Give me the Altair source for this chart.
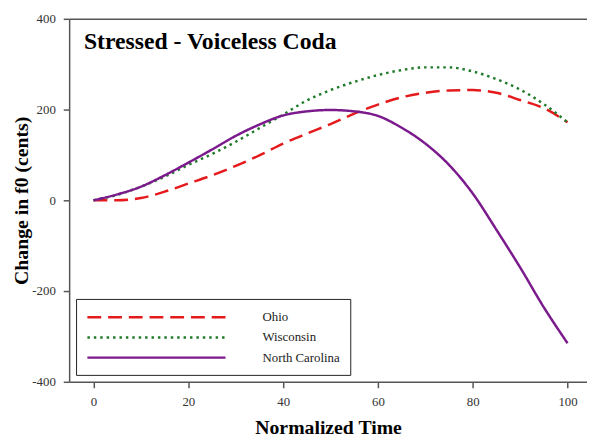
import altair as alt
import pandas as pd

time = [0, 5, 10, 15, 20, 25, 30, 35, 40, 45, 50, 55, 60, 65, 70, 75, 80, 85, 90, 95, 100]
ohio = [0, 0, 5, 19, 37, 55, 76, 99, 125, 147, 168, 191, 211, 227, 237, 242, 243, 237, 221, 203, 172]
wisconsin = [0, 12, 30, 52, 78, 102, 129, 159, 189, 220, 243, 261, 276, 287, 293, 293, 284, 267, 244, 212, 172]
north_carolina = [0, 13, 30, 55, 83, 112, 142, 167, 187, 196, 199, 196, 186, 160, 125, 78, 15, -65, -148, -236, -315]

series_names = ["Ohio", "Wisconsin", "North Carolina"]
series_values = [ohio, wisconsin, north_carolina]
colors = ["#e41a1c", "#1f7a2a", "#7b1a8c"]
dashes = [[14, 7], [2.5, 4], [1, 0]]

x_ticks = [0, 20, 40, 60, 80, 100]
y_ticks = [-400, -200, 0, 200, 400]
chart_title = "Stressed - Voiceless Coda"

rows = []
for name, vals in zip(series_names, series_values):
    for t, v in zip(time, vals):
        rows.append({"time": t, "change": v, "series": name})
df = pd.DataFrame(rows)

FONT = "Liberation Serif"

xscale = alt.Scale(domain=[-5.14, 104.1], nice=False, zero=False)
yscale = alt.Scale(domain=[-400, 400], nice=False, zero=False)

legend = alt.Legend(
    title=None,
    orient="none",
    legendX=7,
    legendY=284,
    padding=10,
    strokeColor="#222222",
    fillColor="white",
    symbolType="M-1,0H19",
    symbolSize=196,
    symbolStrokeWidth=2.5,
    symbolFillColor="transparent",
    labelOffset=162,
    labelFont=FONT,
    labelFontSize=13,
    labelColor="#222222",
    labelLimit=300,
    rowPadding=4.5,
)

lines = alt.Chart(df).mark_line(strokeWidth=2.5, interpolate="monotone").encode(
    x=alt.X("time:Q", scale=xscale,
            axis=alt.Axis(values=x_ticks, title="Normalized Time", orient="bottom")),
    y=alt.Y("change:Q", scale=yscale,
            axis=alt.Axis(values=y_ticks, title="Change in f0 (cents)",
                          labelExpr="replace(datum.label, '\u2212', '-')")),
    color=alt.Color("series:N", scale=alt.Scale(domain=series_names, range=colors), legend=legend),
    strokeDash=alt.StrokeDash("series:N", scale=alt.Scale(domain=series_names, range=dashes), legend=legend),
    detail="series:N",
)

top_frame = alt.Chart(df).mark_point(opacity=0).encode(
    x=alt.X("time:Q", scale=xscale,
            axis=alt.Axis(orient="top", labels=False, ticks=False, title=None, grid=False)),
)

title_layer = alt.Chart(pd.DataFrame({"t": [chart_title]})).mark_text(
    align="left", baseline="alphabetic", font=FONT, fontSize=24, fontWeight="bold", color="black"
).encode(text="t:N", x=alt.value(15), y=alt.value(31))

chart = alt.layer(lines, top_frame, title_layer).resolve_axis(x="independent").properties(
    width=525,
    height=368,
    autosize=alt.AutoSizeParams(type="none"),
    padding={"left": 62, "top": 8, "right": 0, "bottom": 53},
).configure_view(stroke=None).configure_axis(
    domainColor="#555555",
    domainWidth=1.5,
    tickColor="#555555",
    tickWidth=1.5,
    tickSize=6,
    grid=False,
    labelFont=FONT,
    labelFontSize=13,
    labelColor="#333333",
    labelPadding=8,
    titleFont=FONT,
    titleFontSize=20,
    titleFontWeight="bold",
    titleColor="black",
).configure_axisX(titlePadding=9).configure_axisY(titlePadding=0)

chart.save("out.html", embed_options={"renderer": "svg", "actions": False})
